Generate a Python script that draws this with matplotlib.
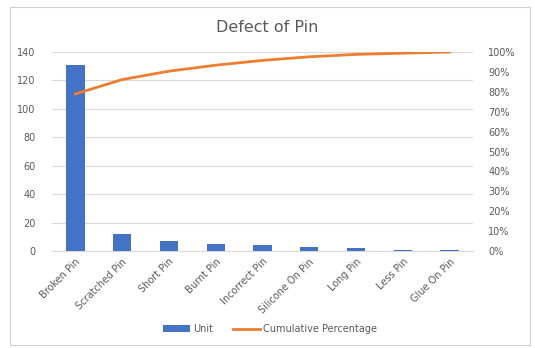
import numpy as np
import matplotlib.pyplot as plt
from matplotlib.patches import Rectangle
from matplotlib.ticker import PercentFormatter

# Defectos por tipo de pin
defects = ['Broken Pin', 'Scratched Pin', 'Short Pin', 'Burnt Pin', 'Incorrect Pin',
           'Silicone On Pin', 'Long Pin', 'Less Pin', 'Glue On Pin']
units = [131, 12, 7, 5, 4, 3, 2, 1, 1]

cum_pct = np.cumsum(units) / np.sum(units) * 100

txt = '#595959'
grid = '#d9d9d9'

fig = plt.figure(figsize=(5.35, 3.48), dpi=100)
ax = fig.add_axes([52/535, 1 - 251/348, (473-52)/535, (251-52)/348])
x = np.arange(len(defects))

bars = ax.bar(x, units, width=0.39, color='#4472C4', label='Unit', zorder=3)
ax.set_ylim(0, 140)
ax.set_yticks(range(0, 141, 20))
ax.set_xlim(-0.5, len(defects) - 0.5)
ax.set_xticks(x)
ax.set_xticklabels(defects, rotation=45, ha='right', rotation_mode='anchor')
ax.grid(axis='y', color=grid, linewidth=0.8, zorder=0)
for s in ['top', 'right', 'left']:
    ax.spines[s].set_visible(False)
ax.spines['bottom'].set_color(grid)
ax.tick_params(length=0, labelsize=7, colors=txt)
ax.tick_params(axis='y', pad=12)
ax.tick_params(axis='x', pad=4)

ax2 = ax.twinx()
line, = ax2.plot(x, cum_pct, color='#ED7D31', linewidth=2, label='Cumulative Percentage', zorder=4)
ax2.set_ylim(0, 100)
ax2.set_yticks(range(0, 101, 10))
ax2.yaxis.set_major_formatter(PercentFormatter(decimals=0))
for s in ax2.spines.values():
    s.set_visible(False)
ax2.tick_params(length=0, labelsize=7, colors=txt, pad=11)

fig.text(0.5, 1 - 28/348, 'Defect of Pin', ha='center', va='center', fontsize=11.5, color=txt)

fig.legend([bars, line], ['Unit', 'Cumulative Percentage'], loc='center',
           bbox_to_anchor=(270/535, 1 - 329/348), ncol=2, frameon=False,
           fontsize=7, labelcolor=txt, handlelength=2.8, columnspacing=2, handletextpad=0.3)

# borde del gráfico
fig.patches.append(Rectangle((10/535, 3/348), 520/535, 338/348, transform=fig.transFigure,
                             fill=False, edgecolor='#d0d0d0', linewidth=0.8))

fig.savefig('out.png', dpi=100)
